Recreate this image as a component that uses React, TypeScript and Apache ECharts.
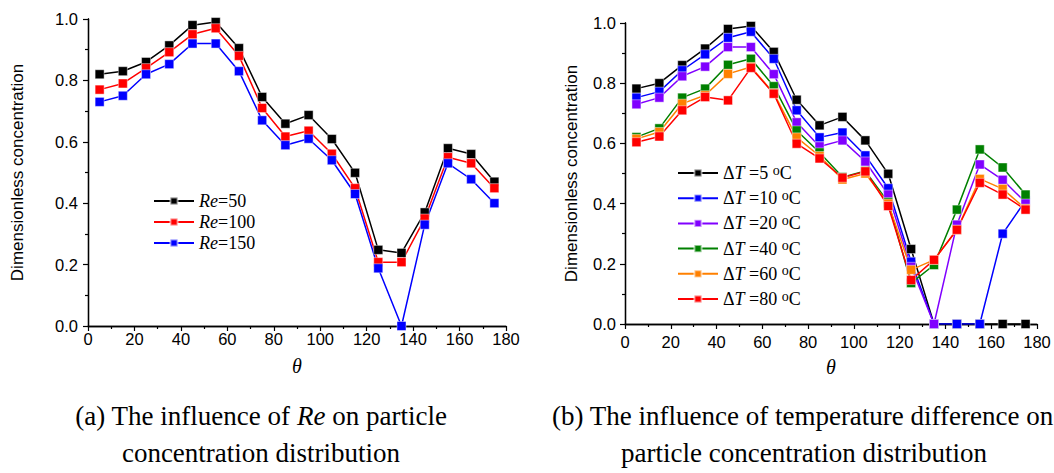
import React, { useEffect, useRef } from "react";
import * as echarts from "echarts";

const theta = [5, 15, 25, 35, 45, 55, 65, 75, 85, 95, 105, 115, 125, 135, 145, 155, 165, 175];
const xTicks = [0, 20, 40, 60, 80, 100, 120, 140, 160, 180];

const re50 = [0.82, 0.83, 0.86, 0.914, 0.98, 0.99, 0.905, 0.746, 0.659, 0.687, 0.609, 0.499, 0.248, 0.238, 0.37, 0.579, 0.56, 0.47];
const re100 = [0.77, 0.79, 0.84, 0.892, 0.95, 0.97, 0.88, 0.71, 0.617, 0.636, 0.561, 0.449, 0.208, 0.208, 0.35, 0.55, 0.53, 0.449];
const re150 = [0.73, 0.75, 0.82, 0.853, 0.92, 0.92, 0.83, 0.67, 0.589, 0.61, 0.54, 0.43, 0.188, 0, 0.33, 0.53, 0.478, 0.4];

const dT5 = [0.782, 0.8, 0.86, 0.915, 0.98, 0.99, 0.904, 0.745, 0.66, 0.688, 0.61, 0.499, 0.249, 0, 0, 0, 0, 0];
const dT10 = [0.752, 0.772, 0.843, 0.896, 0.951, 0.971, 0.881, 0.71, 0.62, 0.636, 0.56, 0.451, 0.207, 0, 0, 0, 0.3, 0.41];
const dT20 = [0.73, 0.752, 0.823, 0.855, 0.92, 0.92, 0.83, 0.67, 0.59, 0.61, 0.54, 0.43, 0.19, 0, 0.33, 0.53, 0.479, 0.404];
const dT40 = [0.621, 0.65, 0.752, 0.782, 0.861, 0.881, 0.79, 0.643, 0.57, 0.488, 0.508, 0.405, 0.136, 0.196, 0.38, 0.58, 0.52, 0.43];
const dT60 = [0.615, 0.638, 0.732, 0.76, 0.831, 0.854, 0.767, 0.62, 0.558, 0.48, 0.5, 0.4, 0.18, 0.213, 0.313, 0.482, 0.449, 0.383];
const dT80 = [0.604, 0.623, 0.71, 0.754, 0.743, 0.851, 0.765, 0.599, 0.55, 0.486, 0.507, 0.392, 0.146, 0.213, 0.313, 0.469, 0.43, 0.38];

const reNames = ["Re=50", "Re=100", "Re=150"];
const reSeries = [re50, re100, re150];
const reColors = ["#000000", "#ff0000", "#0000ff"];

const dtNames = ["ΔT=5", "ΔT=10", "ΔT=20", "ΔT=40", "ΔT=60", "ΔT=80"];
const dtSeries = [dT5, dT10, dT20, dT40, dT60, dT80];
const dtColors = ["#000000", "#0000ff", "#8000ff", "#008000", "#ff8000", "#ff0000"];

const SANS = "Liberation Sans";
const SERIF = "Liberation Serif";

function pairs(vals: number[]) {
  return theta.map((t, i) => [t, vals[i]]);
}

function makeLine(name: string, vals: number[], color: string, axisIdx: number) {
  return {
    type: "line",
    name,
    xAxisIndex: axisIdx,
    yAxisIndex: axisIdx,
    data: pairs(vals),
    symbol: "rect",
    symbolSize: 9,
    lineStyle: { color, width: 1.5 },
    itemStyle: { color, borderColor: "rgba(255,255,255,0.55)", borderWidth: 0.8 },
    emphasis: { disabled: true },
    z: 3,
  };
}

function axesFor(gridIndex: number, xLabelMargin: number, yLabelMargin: number, yNameGap: number, xNameGap: number) {
  const axisLine = { show: true, lineStyle: { color: "#000", width: 1.3 } };
  const x = [
    {
      type: "value",
      gridIndex,
      min: 0,
      max: 180,
      interval: 20,
      name: "θ",
      nameLocation: "middle",
      nameGap: xNameGap,
      nameTextStyle: { fontFamily: SERIF, fontStyle: "italic", fontSize: 20, color: "#000" },
      axisLine,
      axisTick: { show: true, length: 5, lineStyle: { color: "#000", width: 1.2 } },
      minorTick: { show: true, splitNumber: 2, length: 3, lineStyle: { color: "#000", width: 1.2 } },
      axisLabel: {
        fontFamily: SANS,
        fontSize: 16.5,
        color: "#000",
        margin: xLabelMargin,
        customValues: xTicks,
      },
      splitLine: { show: false },
    },
    {
      type: "value",
      gridIndex,
      position: "top",
      min: 0,
      max: 180,
      interval: 20,
      axisLine,
      axisTick: { show: true, inside: true, length: 3, lineStyle: { color: "#000" } },
      minorTick: { show: true, splitNumber: 2, length: 3, lineStyle: { color: "#000" } },
      axisLabel: { show: false },
      splitLine: { show: false },
    },
  ];
  const y = [
    {
      type: "value",
      gridIndex,
      min: 0,
      max: 1,
      interval: 0.2,
      name: "Dimensionless concentration",
      nameLocation: "middle",
      nameRotate: 90,
      nameGap: yNameGap,
      nameTextStyle: { fontFamily: SANS, fontSize: 17, color: "#000" },
      axisLine,
      axisTick: { show: true, length: 5, lineStyle: { color: "#000", width: 1.2 } },
      minorTick: { show: true, splitNumber: 2, length: 3, lineStyle: { color: "#000", width: 1.2 } },
      axisLabel: {
        fontFamily: SANS,
        fontSize: 16.5,
        color: "#000",
        margin: yLabelMargin,
        formatter: (v: number) => v.toFixed(1),
      },
      splitLine: { show: false },
    },
    {
      type: "value",
      gridIndex,
      position: "right",
      min: 0,
      max: 1,
      interval: 0.2,
      axisLine,
      axisTick: { show: true, inside: true, length: 3, lineStyle: { color: "#000" } },
      minorTick: { show: true, splitNumber: 2, length: 3, lineStyle: { color: "#000" } },
      axisLabel: { show: false },
      splitLine: { show: false },
    },
  ];
  return { x, y };
}

export default function App() {
  const ref = useRef<HTMLDivElement>(null);

  useEffect(() => {
    if (!ref.current) return;
    const chart = echarts.init(ref.current, undefined, { renderer: "svg" });

    const a = axesFor(0, 4, 10, 62, 30);
    const b = axesFor(1, 9, 9, 45, 33);

    const xAxis = [a.x[0], b.x[0], a.x[1], b.x[1]];
    const yAxis = [a.y[0], b.y[0], a.y[1], b.y[1]];

    const series: any[] = [];
    reNames.forEach((n, i) => series.push(makeLine(n, reSeries[i], reColors[i], 0)));
    dtNames.forEach((n, i) => series.push(makeLine(n, dtSeries[i], dtColors[i], 1)));

    const legendRich = {
      n: { fontFamily: SERIF, fontSize: 18, color: "#000", lineHeight: 20 },
      i: { fontFamily: SERIF, fontSize: 18, fontStyle: "italic", color: "#000", lineHeight: 20 },
      s: { fontFamily: SERIF, fontSize: 14, color: "#000", lineHeight: 9, verticalAlign: "top" },
    };

    const captionRich = {
      n: { fontFamily: SERIF, fontSize: 27, color: "#000" },
      i: { fontFamily: SERIF, fontSize: 27, fontStyle: "italic", color: "#000" },
    };

    chart.setOption({
      animation: false,
      backgroundColor: "#ffffff",
      grid: [
        { left: 88, top: 19, width: 418, height: 307 },
        { left: 625, top: 23, width: 412, height: 301 },
      ],
      xAxis,
      yAxis,
      legend: [
        {
          data: reNames,
          orient: "vertical",
          left: 153,
          top: 192,
          padding: 0,
          itemWidth: 40,
          itemHeight: 9,
          itemGap: 3,
          selectedMode: false,
          formatter: (name: string) => {
            const v = name.split("=")[1];
            return `{i|Re}{n|=${v}}`;
          },
          textStyle: { rich: legendRich },
        },
        {
          data: dtNames,
          orient: "vertical",
          left: 677,
          top: 163,
          padding: 0,
          itemWidth: 40,
          itemHeight: 9,
          itemGap: 6.2,
          selectedMode: false,
          formatter: (name: string) => {
            const v = name.split("=")[1];
            return `{n|Δ}{i|T}{n| =${v} }{s|o}{n|C}`;
          },
          textStyle: { rich: legendRich },
        },
      ],
      series,
      graphic: [
        {
          type: "text",
          x: 261,
          y: 416,
          style: {
            text: "{n|(a) The influence of }{i|Re}{n| on particle}",
            rich: captionRich,
            align: "center",
            verticalAlign: "middle",
          },
        },
        {
          type: "text",
          x: 261,
          y: 453,
          style: {
            text: "{n|concentration distribution}",
            rich: captionRich,
            align: "center",
            verticalAlign: "middle",
          },
        },
        {
          type: "text",
          x: 552,
          y: 416,
          style: {
            text: "{n|(b) The influence of temperature difference on}",
            rich: captionRich,
            align: "left",
            verticalAlign: "middle",
          },
        },
        {
          type: "text",
          x: 804,
          y: 453,
          style: {
            text: "{n|particle concentration distribution}",
            rich: captionRich,
            align: "center",
            verticalAlign: "middle",
          },
        },
      ],
    });

    return () => chart.dispose();
  }, []);

  return (
    <div
      ref={ref}
      style={{ position: "absolute", left: 0, top: 0, width: 1054, height: 473, background: "#fff" }}
    />
  );
}
